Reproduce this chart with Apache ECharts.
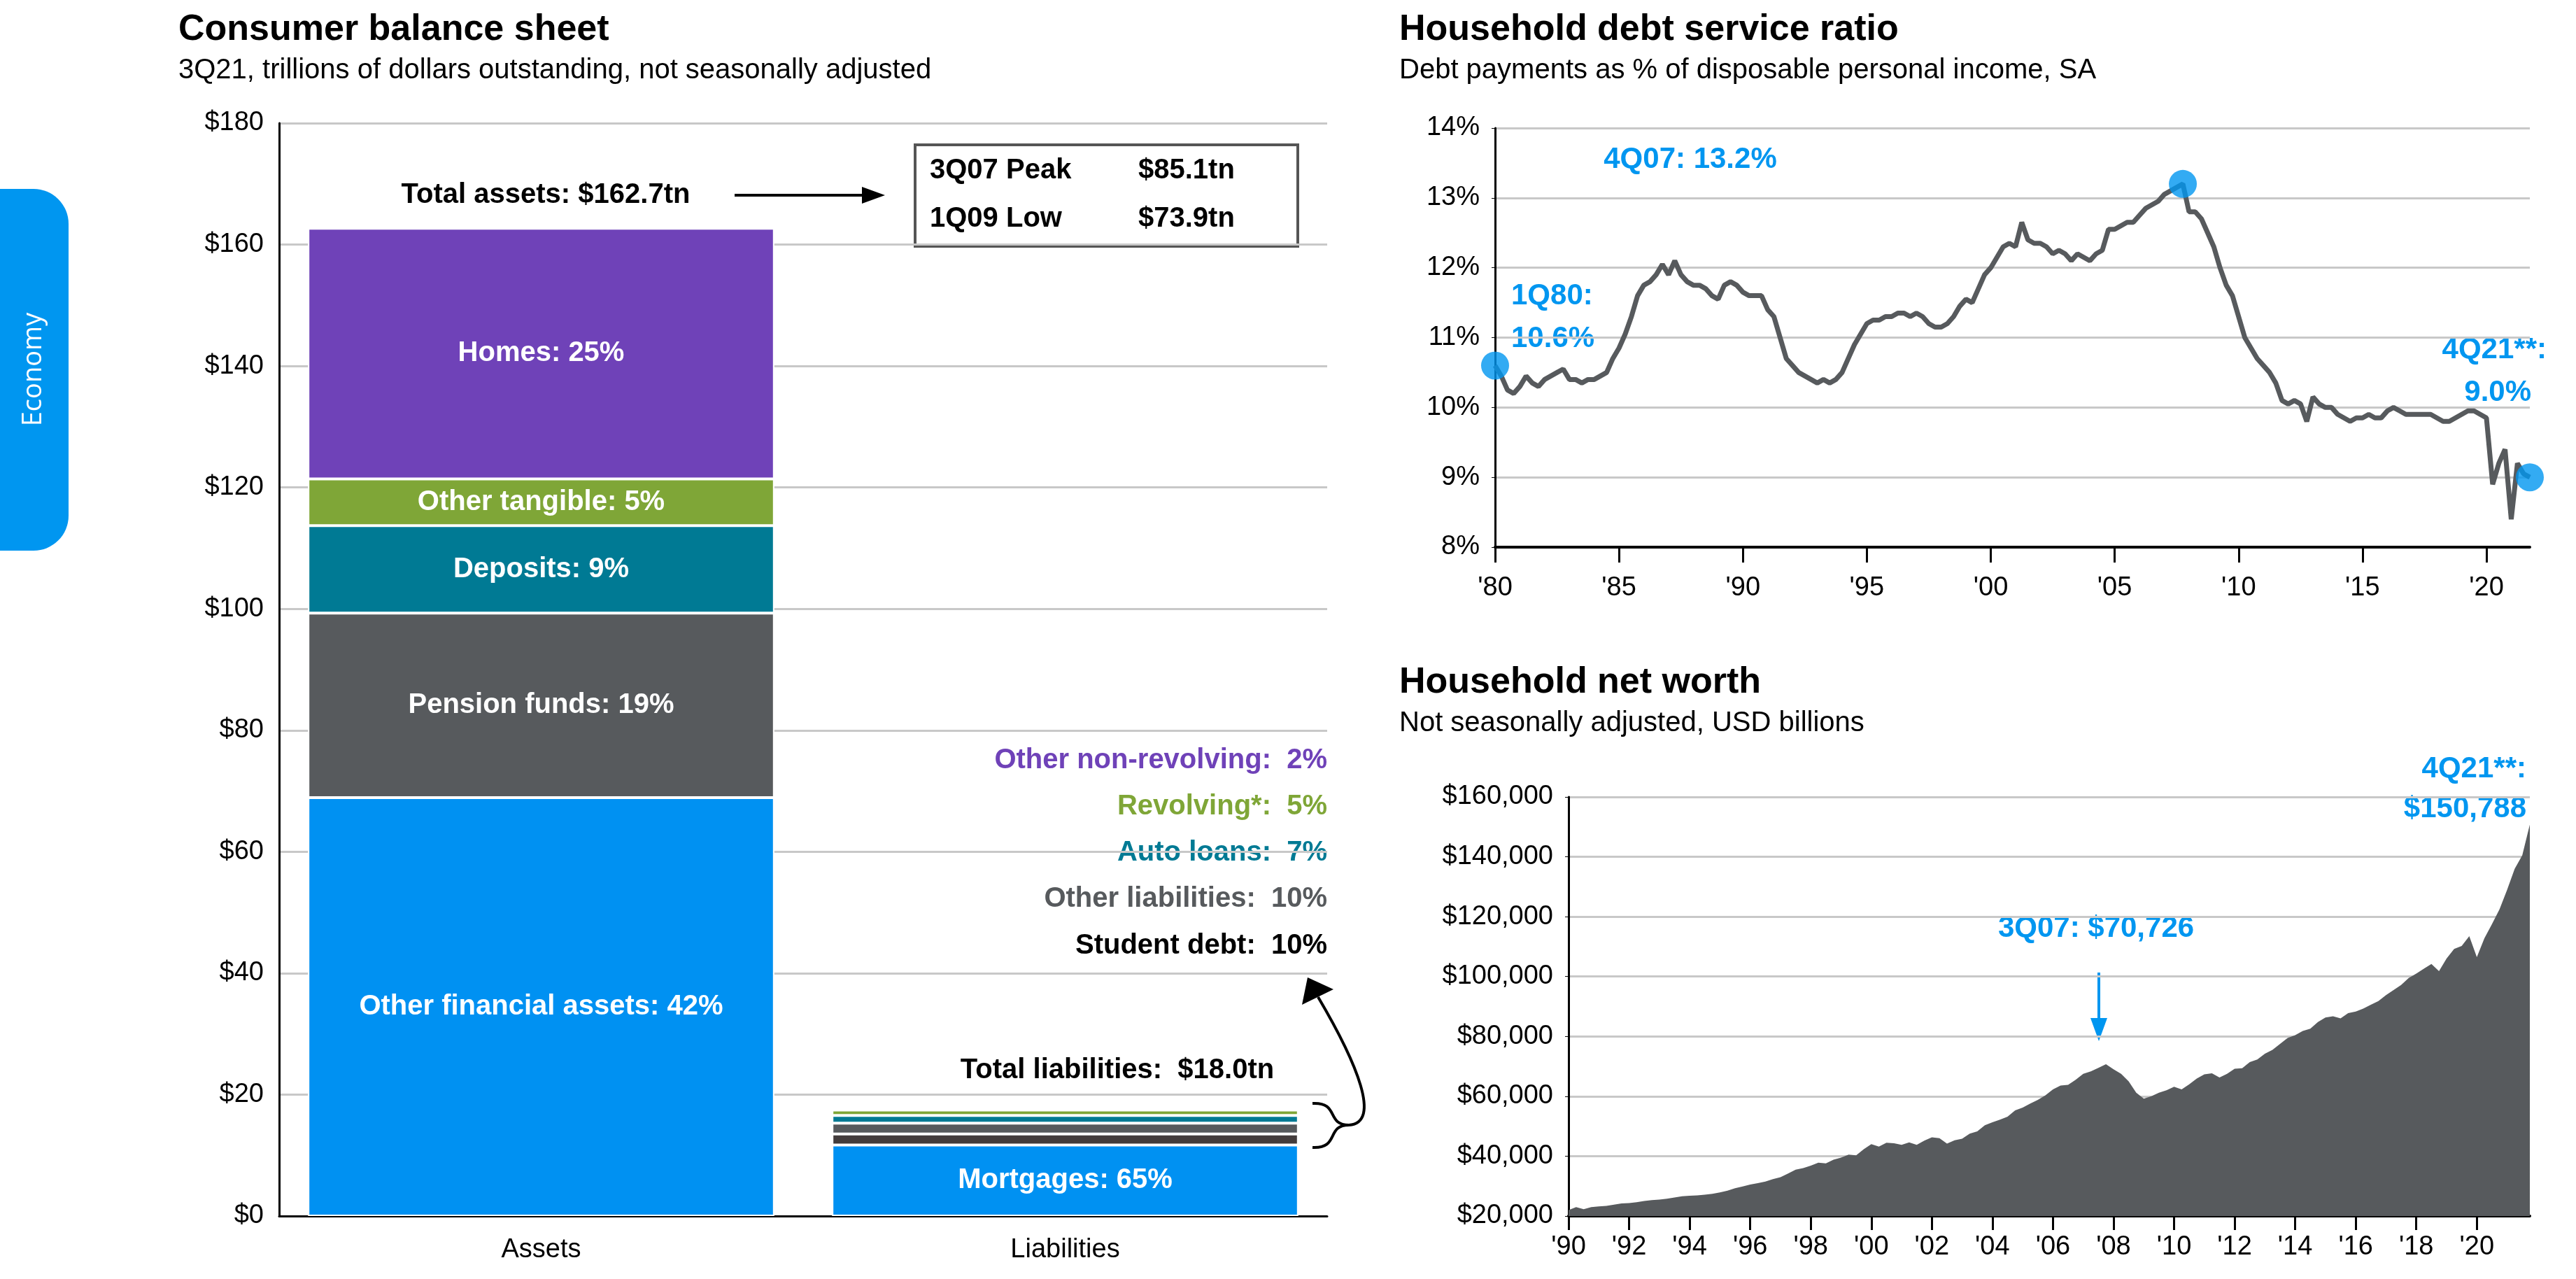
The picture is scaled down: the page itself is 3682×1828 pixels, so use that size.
<!DOCTYPE html>
<html><head><meta charset="utf-8">
<script src="https://cdn.jsdelivr.net/npm/echarts@6/dist/echarts.min.js"></script>
<style>html,body{margin:0;padding:0;background:#fff}#c{width:3682px;height:1828px}</style>
</head><body><div id="c"></div>
<script>
// ---------- DATA ----------
const balanceCategories = ['Assets', 'Liabilities'];
const assetNames = ['Other financial assets: 42%', 'Pension funds: 19%', 'Deposits: 9%', 'Other tangible: 5%', 'Homes: 25%'];
const assetValues = [68.9, 30.4, 14.4, 7.7, 41.3];
const assetColors = ['#0091f2', '#575a5d', '#007a94', '#7fa637', '#6f42b8'];
const liabNames = ['Mortgages: 65%', 'Student debt: 10%', 'Other liabilities: 10%', 'Auto loans: 7%', 'Revolving*: 5%', 'Other non-revolving: 2%'];
const liabValues = [11.7, 1.8, 1.8, 1.26, 0.9, 0.36];
const liabColors = ['#0091f2', '#433c3c', '#575a5d', '#007a94', '#7fa637', '#6f42b8'];
const balanceTicks = [0, 20, 40, 60, 80, 100, 120, 140, 160, 180];

// Household debt service ratio, quarterly from 1Q80 to 4Q21 (%)
const dsrStart = 1980;
const dsrValues = [
 10.6,10.45,10.25,10.2, 10.3,10.45,10.35,10.3, 10.4,10.45,10.5,10.55, 10.4,10.4,10.35,10.4,
 10.4,10.45,10.5,10.7, 10.85,11.05,11.3,11.6, 11.75,11.8,11.9,12.05, 11.9,12.1,11.9,11.8,
 11.75,11.75,11.7,11.6, 11.55,11.75,11.8,11.75, 11.65,11.6,11.6,11.6, 11.4,11.3,11.0,10.7,
 10.6,10.5,10.45,10.4, 10.35,10.4,10.35,10.4, 10.5,10.7,10.9,11.05, 11.2,11.25,11.25,11.3,
 11.3,11.35,11.35,11.3, 11.35,11.3,11.2,11.15, 11.15,11.2,11.3,11.45, 11.55,11.5,11.7,11.9,
 12.0,12.15,12.3,12.35, 12.3,12.65,12.4,12.35, 12.35,12.3,12.2,12.25, 12.2,12.1,12.2,12.15,
 12.1,12.2,12.25,12.55, 12.55,12.6,12.65,12.65, 12.75,12.85,12.9,12.95, 13.05,13.1,13.15,13.2,
 12.8,12.8,12.7,12.5, 12.3,12.0,11.75,11.6, 11.3,11.0,10.85,10.7, 10.6,10.5,10.35,10.1,
 10.05,10.1,10.05,9.8, 10.15,10.05,10.0,10.0, 9.9,9.85,9.8,9.85, 9.85,9.9,9.85,9.85,
 9.95,10.0,9.95,9.9, 9.9,9.9,9.9,9.9, 9.85,9.8,9.8,9.85, 9.9,9.95,9.95,9.9,
 9.85,8.9,9.2,9.4, 8.4,9.2,9.05,9.0
];
const dsrTicks = [8, 9, 10, 11, 12, 13, 14];

// Household net worth, quarterly from 1Q90 to 4Q21 (USD billions)
const nwStart = 1990;
const nwValues = [
 22000,23000,22300,23000, 23200,23400,23800,24200, 24300,24600,25000,25300, 25500,25800,26200,26600,
 26800,26900,27100,27400, 27900,28500,29300,29900, 30500,31000,31500,32300, 33000,34200,35500,36000,
 36800,37800,37600,38800, 39500,40500,40300,42300, 44000,43200,44500,44300, 43800,44600,43800,45200,
 46300,46000,44200,45300, 45800,47500,48300,50300, 51300,52200,53200,55300, 56200,57600,58800,60300,
 62300,63600,63800,65500, 67500,68300,69500,70726, 69000,67500,65000,61200, 59200,60000,61200,62000,
 63200,62300,64000,65900, 67300,67700,66300,67500, 69200,69400,71400,72300, 74200,75500,77500,79500,
 80400,81800,82600,84800, 86300,86700,86000,87800, 88300,89300,90600,91800, 93800,95500,97200,99500,
 101000,102600,104200,101800, 106000,109200,110200,113500, 106500,112800,117500,122500, 129000,136000,140500,150788
];
const nwTicks = [20000, 40000, 60000, 80000, 100000, 120000, 140000, 160000];

// ---------- BUILD ----------
const FONT = 'Liberation Sans';
const BLUE = '#0096f0';
const dsrData = dsrValues.map((v, i) => [dsrStart + i / 4, v]);
const nwData = nwValues.map((v, i) => [nwStart + i / 4, v]);
const dsrPeakIdx = dsrValues.indexOf(Math.max(...dsrValues.slice(100, 120)));
const markPts = [dsrData[0], dsrData[dsrPeakIdx], dsrData[dsrData.length - 1]];

const series = [];
assetValues.forEach((v, i) => series.push({
  type: 'bar', stack: 'bs', xAxisIndex: 0, yAxisIndex: 0, barWidth: '89%', name: assetNames[i],
  data: [v, '-'], itemStyle: { color: assetColors[i], borderColor: '#fff', borderWidth: 2 },
  label: { show: true, position: 'inside', formatter: assetNames[i], color: '#fff', fontFamily: FONT, fontWeight: 'bold', fontSize: 40 },
  emphasis: { disabled: true }, silent: true
}));
liabValues.forEach((v, i) => series.push({
  type: 'bar', stack: 'bs', xAxisIndex: 0, yAxisIndex: 0, barWidth: '89%', name: liabNames[i],
  data: ['-', v], itemStyle: { color: liabColors[i], borderColor: '#fff', borderWidth: 2 },
  label: { show: i === 0, position: 'inside', formatter: liabNames[i], color: '#fff', fontFamily: FONT, fontWeight: 'bold', fontSize: 40 },
  silent: true
}));
series.push({
  type: 'line', xAxisIndex: 1, yAxisIndex: 1, data: dsrData, showSymbol: false,
  lineStyle: { color: '#575a5d', width: 7 }, silent: true, z: 3
});
series.push({
  type: 'scatter', xAxisIndex: 1, yAxisIndex: 1, data: markPts, symbolSize: 40,
  itemStyle: { color: BLUE }, silent: true, z: 5
});
series.push({
  type: 'line', xAxisIndex: 2, yAxisIndex: 2, data: nwData, showSymbol: false,
  lineStyle: { width: 0 }, areaStyle: { color: '#575a5d', opacity: 1 }, silent: true
});

const axisLbl = { color: '#000', fontFamily: FONT, fontSize: 38 };
const gridLine = { show: true, lineStyle: { color: '#c8c8c8', width: 3 } };
const yr = v => "'" + String(Math.round(v)).slice(2);

const txt = (x, y, text, o = {}) => ({
  type: 'text', x, y, style: Object.assign({ text, fontFamily: FONT, fontSize: 40, fontWeight: 'bold', fill: '#000', textAlign: 'left', textVerticalAlign: 'middle' }, o)
});

const option = {
  animation: false,
  backgroundColor: '#fff',
  title: [
    { text: 'Consumer balance sheet', subtext: '3Q21, trillions of dollars outstanding, not seasonally adjusted', left: 250, top: 12,
      textStyle: { fontFamily: FONT, fontSize: 52, fontWeight: 'bold', color: '#000' }, subtextStyle: { fontFamily: FONT, fontSize: 40, color: '#000' }, itemGap: 12 },
    { text: 'Household debt service ratio', subtext: 'Debt payments as % of disposable personal income, SA', left: 1995, top: 12,
      textStyle: { fontFamily: FONT, fontSize: 52, fontWeight: 'bold', color: '#000' }, subtextStyle: { fontFamily: FONT, fontSize: 40, color: '#000' }, itemGap: 12 },
    { text: 'Household net worth', subtext: 'Not seasonally adjusted, USD billions', left: 1995, top: 945,
      textStyle: { fontFamily: FONT, fontSize: 52, fontWeight: 'bold', color: '#000' }, subtextStyle: { fontFamily: FONT, fontSize: 40, color: '#000' }, itemGap: 12 }
  ],
  grid: [
    { left: 399, top: 176, width: 1498, height: 1562 },
    { left: 2137, top: 183, width: 1479, height: 599 },
    { left: 2242, top: 1139, width: 1374, height: 599 }
  ],
  xAxis: [
    { gridIndex: 0, type: 'category', data: balanceCategories, axisTick: { show: false },
      axisLine: { lineStyle: { color: '#000', width: 3 } }, axisLabel: Object.assign({ margin: 30 }, axisLbl) },
    { gridIndex: 1, type: 'value', min: 1980, max: 2021.75, interval: 5, splitLine: { show: false },
      axisLine: { lineStyle: { color: '#000', width: 4 } }, axisTick: { show: true, length: 22, lineStyle: { color: '#000', width: 3 } },
      axisLabel: Object.assign({ margin: 40, formatter: yr, showMaxLabel: false }, axisLbl) },
    { gridIndex: 2, type: 'value', min: 1990, max: 2021.75, interval: 2, splitLine: { show: false },
      axisLine: { lineStyle: { color: '#000', width: 4 } }, axisTick: { show: true, length: 20, lineStyle: { color: '#000', width: 3 } },
      axisLabel: Object.assign({ margin: 26, formatter: yr, showMaxLabel: false }, axisLbl) }
  ],
  yAxis: [
    { gridIndex: 0, type: 'value', min: balanceTicks[0], max: balanceTicks[balanceTicks.length - 1], interval: 20,
      axisLine: { show: true, lineStyle: { color: '#000', width: 3 } }, splitLine: gridLine,
      axisLabel: Object.assign({ margin: 22, formatter: v => '$' + v }, axisLbl) },
    { gridIndex: 1, type: 'value', min: dsrTicks[0], max: dsrTicks[dsrTicks.length - 1], interval: 1,
      axisLine: { show: true, lineStyle: { color: '#000', width: 3 } }, splitLine: gridLine,
      axisLabel: Object.assign({ margin: 22, formatter: v => v + '%' }, axisLbl) },
    { gridIndex: 2, type: 'value', min: nwTicks[0], max: nwTicks[nwTicks.length - 1], interval: 20000,
      axisLine: { show: true, lineStyle: { color: '#000', width: 3 } }, splitLine: gridLine,
      axisLabel: Object.assign({ margin: 22, formatter: v => '$' + v.toLocaleString('en-US') }, axisLbl) }
  ],
  series,
  graphic: [
    { type: 'rect', shape: { x: -60, y: 270, width: 158, height: 517, r: 50 }, style: { fill: BLUE } },
    { type: 'text', x: 48, y: 528, rotation: Math.PI / 2, style: { text: 'Economy', fontFamily: 'Open Sans', fontSize: 38, fill: '#fff', textAlign: 'center', textVerticalAlign: 'middle' } },
    // left chart annotations
    txt(780, 279, 'Total assets: $162.7tn', { textAlign: 'center' }),
    { type: 'line', shape: { x1: 1050, y1: 279, x2: 1240, y2: 279 }, style: { stroke: '#000', lineWidth: 4 } },
    { type: 'polygon', shape: { points: [[1265, 279], [1232, 267], [1232, 291]] }, style: { fill: '#000' } },
    { type: 'rect', shape: { x: 1308, y: 207, width: 547, height: 145 }, style: { fill: '#fff', stroke: '#555', lineWidth: 4 } },
    txt(1329, 244, '3Q07 Peak'), txt(1627, 244, '$85.1tn'),
    txt(1329, 313, '1Q09 Low'), txt(1627, 313, '$73.9tn'),
    txt(1897, 1087, 'Other non-revolving:  2%', { textAlign: 'right', fill: '#6f42b8' }),
    txt(1897, 1153, 'Revolving*:  5%', { textAlign: 'right', fill: '#7fa637' }),
    txt(1897, 1219, 'Auto loans:  7%', { textAlign: 'right', fill: '#007a94' }),
    txt(1897, 1285, 'Other liabilities:  10%', { textAlign: 'right', fill: '#575a5d' }),
    txt(1897, 1352, 'Student debt:  10%', { textAlign: 'right', fill: '#000' }),
    txt(1597, 1530, 'Total liabilities:  $18.0tn', { textAlign: 'center' }),
    { type: 'bezierCurve', shape: { x1: 1876, y1: 1577, cpx1: 1915, cpy1: 1575, cpx2: 1895, cpy2: 1608, x2: 1928, y2: 1608 }, style: { stroke: '#000', lineWidth: 4, fill: 'none' } },
    { type: 'bezierCurve', shape: { x1: 1876, y1: 1640, cpx1: 1915, cpy1: 1642, cpx2: 1895, cpy2: 1608, x2: 1928, y2: 1608 }, style: { stroke: '#000', lineWidth: 4, fill: 'none' } },
    { type: 'bezierCurve', shape: { x1: 1928, y1: 1608, cpx1: 1975, cpy1: 1605, cpx2: 1940, cpy2: 1520, x2: 1884, y2: 1425 }, style: { stroke: '#000', lineWidth: 4, fill: 'none' } },
    { type: 'polygon', shape: { points: [[1869, 1397], [1861, 1436], [1906, 1414]] }, style: { fill: '#000' } },
    // debt service annotations
    txt(2416, 228, '4Q07: 13.2%', { textAlign: 'center', fill: BLUE, fontSize: 42 }),
    txt(2160, 423, '1Q80:', { fill: BLUE, fontSize: 42 }),
    txt(2160, 484, '10.6%', { fill: BLUE, fontSize: 42 }),
    txt(3640, 500, '4Q21**:', { textAlign: 'right', fill: BLUE, fontSize: 42 }),
    txt(3618, 561, '9.0%', { textAlign: 'right', fill: BLUE, fontSize: 42 }),
    // net worth annotations
    txt(3611, 1099, '4Q21**:', { textAlign: 'right', fill: BLUE, fontSize: 42 }),
    txt(3611, 1156, '$150,788', { textAlign: 'right', fill: BLUE, fontSize: 42 }),
    txt(2996, 1327, '3Q07: $70,726', { textAlign: 'center', fill: BLUE, fontSize: 42 }),
    { type: 'line', shape: { x1: 3000, y1: 1390, x2: 3000, y2: 1460 }, style: { stroke: BLUE, lineWidth: 4 } },
    { type: 'polygon', shape: { points: [[3000, 1488], [2988, 1455], [3012, 1455]] }, style: { fill: BLUE } }
  ]
};
const chart = echarts.init(document.getElementById('c'), null, { renderer: 'canvas' });
chart.setOption(option);
</script></body></html>
